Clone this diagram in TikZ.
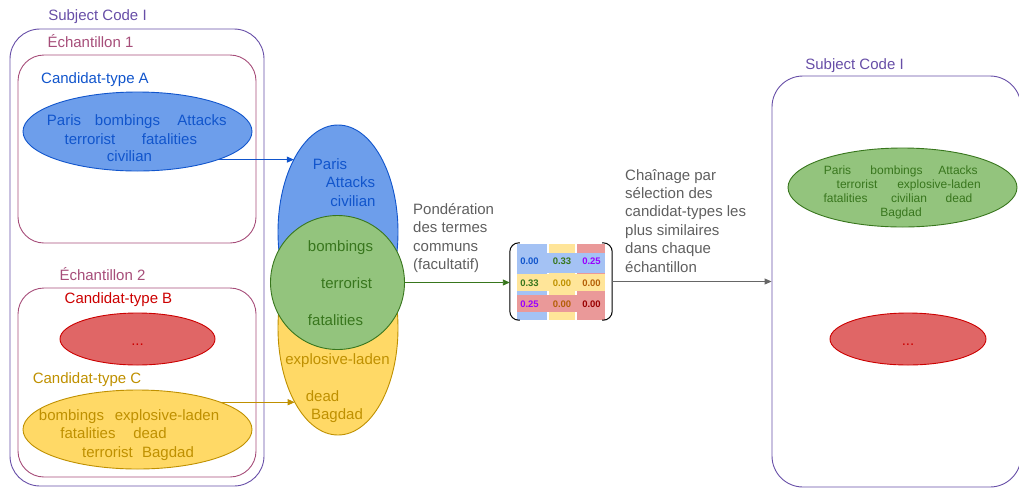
\documentclass[tikz,border=0pt]{standalone}
\usepackage{fontspec}
\setmainfont{Liberation Sans}
\usetikzlibrary{shapes.geometric,arrows.meta,calc}

\definecolor{purp}{HTML}{674EA7}
\definecolor{plum}{HTML}{A64D79}
\definecolor{blueD}{HTML}{1155CC}
\definecolor{blueF}{HTML}{6D9EEB}
\definecolor{redD}{HTML}{CC0000}
\definecolor{redF}{HTML}{E06666}
\definecolor{yelD}{HTML}{BF9000}
\definecolor{yelF}{HTML}{FFD966}
\definecolor{grnD}{HTML}{38761D}
\definecolor{grnF}{HTML}{93C47D}
\definecolor{greyT}{HTML}{5F5F5F}
\definecolor{greyA}{HTML}{666666}
\definecolor{mBlue}{HTML}{A4C2F4}
\definecolor{mYel}{HTML}{FFE599}
\definecolor{mRed}{HTML}{EA9999}
\definecolor{violetN}{HTML}{9900FF}
\definecolor{orangeN}{HTML}{B45F06}
\definecolor{redN}{HTML}{990000}

\tikzset{
  lbl/.style={font=\fontsize{15}{18}\selectfont, inner sep=0, text height=11pt, text depth=3pt},
  wd/.style={font=\fontsize{15}{18}\selectfont, inner sep=0, text height=11pt, text depth=3pt},
  wds/.style={font=\fontsize{12}{14}\selectfont, inner sep=0, text height=9pt, text depth=2.5pt},
  num/.style={font=\fontsize{9.5}{11}\selectfont\bfseries, inner sep=0, text height=7pt, text depth=0pt},
  frm/.style={draw=#1, line width=0.9pt, inner sep=0},
  blob/.style 2 args={ellipse, draw=#1, fill=#2, line width=0.9pt, inner sep=0},
  tip/.style={-{Triangle[length=7pt,width=6pt]}, line width=0.9pt},
  note/.style={font=\fontsize{15}{18.4}\selectfont, text=greyT, align=left, inner sep=0, anchor=north west}
}

\begin{document}
\begin{tikzpicture}[x=1pt,y=-1pt]
\useasboundingbox (0,0) rectangle (1019,488);
\clip (0,0) rectangle (1019,488);

% ---------- left: subject code with two samples ----------
\node[lbl, text=purp] (subjL) at (97.5,16) {Subject Code I};
\node[frm=purp, rounded corners=30pt, minimum width=254, minimum height=457] (outerL) at (137,257.5) {};

\node[lbl, text=plum] (ech1) at (90.5,43.5) {Échantillon 1};
\node[frm=plum, rounded corners=26pt, minimum width=238, minimum height=188] (box1) at (137,149) {};

\node[lbl, text=plum] (ech2) at (102.5,276) {Échantillon 2};
\node[frm=plum, rounded corners=26pt, minimum width=238, minimum height=189] (box2) at (137,382.5) {};

% candidate type A
\node[lbl, text=blueD] (ctA) at (95,79) {Candidat-type A};
\node[blob={blueD}{blueF}, minimum width=229, minimum height=79] (eA) at (137.5,131.5) {};
\begin{scope}[every node/.style={wd, text=blueD}]
  \node (a1) at (64,121) {Paris};
  \node (a2) at (127.5,121) {bombings};
  \node (a3) at (202,121) {Attacks};
  \node (a4) at (90,140) {terrorist};
  \node (a5) at (169.5,140) {fatalities};
  \node (a6) at (129.5,157.5) {civilian};
\end{scope}

% candidate type B
\node[lbl, text=redD] (ctB) at (118.5,299) {Candidat-type B};
\node[blob={redD}{redF}, minimum width=155, minimum height=52] (eB) at (137.5,339) {};
\node[wd, text=redD] (dotsB) at (137.5,341) {...};

% candidate type C
\node[lbl, text=yelD] (ctC) at (87,379.5) {Candidat-type C};
\node[blob={yelD}{yelF}, minimum width=229, minimum height=79] (eC) at (137.5,429.5) {};
\begin{scope}[every node/.style={wd, text=yelD}]
  \node (c1) at (71.5,416) {bombings};
  \node (c2) at (167,416) {explosive-laden};
  \node (c3) at (88,434) {fatalities};
  \node (c4) at (150,434) {dead};
  \node (c5) at (107.5,453) {terrorist};
  \node (c6) at (168,453) {Bagdad};
\end{scope}

% ---------- middle: overlap of A and C ----------
\node[blob={yelD}{yelF}, minimum width=120, minimum height=214] (eYel) at (338,328) {};
\node[blob={blueD}{blueF}, minimum width=120, minimum height=214] (eBlue) at (338,232) {};
\node[circle, draw=grnD, fill=grnF, line width=0.9pt, inner sep=0, minimum size=134] (gC) at (337.5,282.5) {};

\begin{scope}[every node/.style={wd, text=blueD}]
  \node (b1) at (330,165) {Paris};
  \node (b2) at (350.5,183.5) {Attacks};
  \node (b3) at (353,202) {civilian};
\end{scope}
\begin{scope}[every node/.style={wd, text=grnD}]
  \node (g1) at (340.5,247) {bombings};
  \node (g2) at (346.5,284) {terrorist};
  \node (g3) at (335.5,321) {fatalities};
\end{scope}
\begin{scope}[every node/.style={wd, text=yelD}]
  \node (y1) at (337.5,360) {explosive-laden};
  \node (y2) at (322.5,397) {dead};
  \node (y3) at (337,415) {Bagdad};
\end{scope}

\draw[tip, blueD] (eA.341.5) -- (eA.341.5 -| eBlue.121);
\draw[tip, yelD] (eC.18.5) -- (eC.18.5 -| eYel.240);

% ---------- similarity matrix ----------
\node[note] (pond) at (413,203) {Pondération\\des termes\\communs\\(facultatif)};

\node[minimum width=102, minimum height=77, inner sep=0] (mat) at (561,281.5) {};
% column bands
\fill[mBlue] (516.7,244.3) rectangle (546.7,320);
\fill[mYel] (549.3,244.3) rectangle (575,320);
\fill[mRed] (576.7,244.3) rectangle (605,320);
% row bands
\fill[mBlue] (516.7,253.3) rectangle (605,272.7);
\fill[mYel] (516.7,274.3) rectangle (605,291);
\fill[mRed] (516.7,295) rectangle (605,312.3);
% brackets
\draw[line width=1pt, rounded corners=9pt] ($(mat.north west)+(10,0)$) -- (mat.north west) -- (mat.south west) -- ($(mat.south west)+(10,0)$);
\draw[line width=1pt, rounded corners=9pt] ($(mat.north east)+(-10,0)$) -- (mat.north east) -- (mat.south east) -- ($(mat.south east)+(-10,0)$);

\node[num, text=blueD] (n11) at (529.5,261) {0.00};
\node[num, text=grnD] (n12) at (562,261) {0.33};
\node[num, text=violetN] (n13) at (591.5,261) {0.25};
\node[num, text=grnD] (n21) at (529.5,282.5) {0.33};
\node[num, text=yelD] (n22) at (562,282.5) {0.00};
\node[num, text=orangeN] (n23) at (591.5,282.5) {0.00};
\node[num, text=violetN] (n31) at (529.5,304) {0.25};
\node[num, text=orangeN] (n32) at (562,304) {0.00};
\node[num, text=redN] (n33) at (591.5,304) {0.00};

\draw[tip, grnD] (gC.east) -- (gC.east -| mat.west);

% ---------- right: chained subject code ----------
\node[note] (chain) at (625,169) {Chaînage par\\sélection des\\candidat-types les\\plus similaires\\dans chaque\\échantillon};

\node[lbl, text=purp] (subjR) at (854.5,65) {Subject Code I};
\node[frm=purp, rounded corners=31pt, minimum width=249, minimum height=411] (outerR) at (896.5,281.5) {};

\node[blob={grnD}{grnF}, minimum width=229, minimum height=79] (eG) at (902.5,187.5) {};
\begin{scope}[every node/.style={wds, text=grnD}]
  \node (r1) at (837.5,171) {Paris};
  \node (r2) at (896.5,171) {bombings};
  \node (r3) at (958,171) {Attacks};
  \node (r4) at (857,185) {terrorist};
  \node (r5) at (939,185) {explosive-laden};
  \node (r6) at (845.5,199) {fatalities};
  \node (r7) at (909,199) {civilian};
  \node (r8) at (959,199) {dead};
  \node (r9) at (901,213) {Bagdad};
\end{scope}

\node[blob={redD}{redF}, minimum width=156, minimum height=52] (eR) at (908,339) {};
\node[wd, text=redD] (dotsR) at (908,341) {...};

\draw[tip, greyA] (mat.east) -- (mat.east -| outerR.west);
\end{tikzpicture}
\end{document}
